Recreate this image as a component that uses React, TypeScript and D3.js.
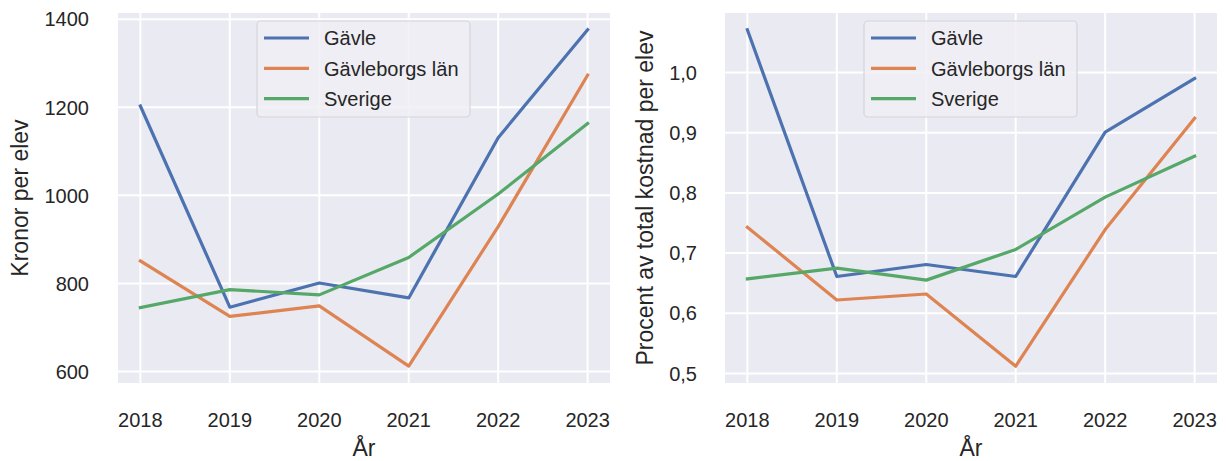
import React from "react";
import * as d3 from "d3";

const years = [2018, 2019, 2020, 2021, 2022, 2023];
const seriesNames = ["Gävle", "Gävleborgs län", "Sverige"];
const colors = ["#4C72B0", "#DD8452", "#55A868"];

const kronorGavle = [1203, 746, 801, 767, 1131, 1376];
const kronorLan = [851, 725, 749, 612, 929, 1273];
const kronorSverige = [745, 786, 774, 859, 1003, 1163];

const procentGavle = [1.071, 0.661, 0.681, 0.661, 0.901, 0.99];
const procentLan = [0.743, 0.622, 0.632, 0.512, 0.739, 0.924];
const procentSverige = [0.657, 0.675, 0.655, 0.706, 0.793, 0.861];

const kronorTicks = [600, 800, 1000, 1200, 1400];
const procentTicks = [0.5, 0.6, 0.7, 0.8, 0.9, 1.0];

const FONT = "'Liberation Sans', Arial, Helvetica, sans-serif";
const TEXT = "#262626";

function padDomain(vals: number[]): [number, number] {
  const mn = d3.min(vals)!;
  const mx = d3.max(vals)!;
  const p = (mx - mn) * 0.05;
  return [mn - p, mx + p];
}

type PanelProps = {
  left: number;
  width: number;
  top: number;
  height: number;
  series: number[][];
  ticks: number[];
  fmt: (v: number) => string;
  ylabel: string;
  ylabelX: number;
  tickEnd: number;
};

function Panel(p: PanelProps) {
  const x = d3
    .scaleLinear()
    .domain(padDomain(years))
    .range([p.left, p.left + p.width]);
  const y = d3
    .scaleLinear()
    .domain(padDomain(p.series.flat()))
    .range([p.top + p.height, p.top]);
  const line = d3
    .line<number>()
    .x((_, i) => x(years[i]))
    .y((d) => y(d));
  const cy = p.top + p.height / 2;
  const lgX = p.left + 139;
  const lgY = p.top + 8;
  return (
    <g>
      <rect x={p.left} y={p.top} width={p.width} height={p.height} fill="#EAEAF2" />
      {years.map((yr) => (
        <line key={"gx" + yr} x1={x(yr)} x2={x(yr)} y1={p.top} y2={p.top + p.height} stroke="#fff" strokeWidth={2} />
      ))}
      {p.ticks.map((t) => (
        <line key={"gy" + t} x1={p.left} x2={p.left + p.width} y1={y(t)} y2={y(t)} stroke="#fff" strokeWidth={2} />
      ))}
      {p.series.map((s, i) => (
        <path key={"s" + i} d={line(s) || ""} fill="none" stroke={colors[i]} strokeWidth={3.2} strokeLinejoin="round" strokeLinecap="square" />
      ))}
      {years.map((yr) => (
        <text key={"tx" + yr} x={x(yr)} y={427} textAnchor="middle" fontSize={20} fill={TEXT} fontFamily={FONT}>
          {yr}
        </text>
      ))}
      {p.ticks.map((t) => (
        <text key={"ty" + t} x={p.tickEnd} y={y(t)} dy="0.36em" textAnchor="end" fontSize={20} fill={TEXT} fontFamily={FONT}>
          {p.fmt(t)}
        </text>
      ))}
      <text x={p.left + p.width / 2} y={456} textAnchor="middle" fontSize={23} fill={TEXT} fontFamily={FONT}>
        År
      </text>
      <text
        transform={`translate(${p.ylabelX},${cy}) rotate(-90)`}
        textAnchor="middle"
        fontSize={23}
        fill={TEXT}
        fontFamily={FONT}
      >
        {p.ylabel}
      </text>
      <rect x={lgX} y={lgY} width={213} height={96} rx={4} fill="#EEEEF4" fillOpacity={0.85} stroke="#D4D4DA" strokeWidth={1.2} />
      {seriesNames.map((n, i) => (
        <g key={"lg" + i}>
          <line x1={lgX + 7} x2={lgX + 52} y1={lgY + 17 + i * 30.3} y2={lgY + 17 + i * 30.3} stroke={colors[i]} strokeWidth={3.2} />
          <text x={lgX + 67} y={lgY + 17 + i * 30.3} dy="0.36em" fontSize={20} fill={TEXT} fontFamily={FONT}>
            {n}
          </text>
        </g>
      ))}
    </g>
  );
}

export default function App() {
  const commaFmt = (v: number) => d3.format(".1f")(v).replace(".", ",");
  return (
    <svg
      width={1226}
      height={461}
      style={{ display: "block", position: "absolute", left: 0, top: 0 }}
    >
      <rect x={0} y={0} width={1226} height={461} fill="#fff" />
      <Panel
        left={118}
        width={492}
        top={13}
        height={370}
        series={[kronorGavle, kronorLan, kronorSverige]}
        ticks={kronorTicks}
        fmt={(v) => String(v)}
        ylabel="Kronor per elev"
        ylabelX={28}
        tickEnd={89}
      />
      <Panel
        left={725}
        width={492}
        top={13}
        height={370}
        series={[procentGavle, procentLan, procentSverige]}
        ticks={procentTicks}
        fmt={commaFmt}
        ylabel="Procent av total kostnad per elev"
        ylabelX={653}
        tickEnd={697}
      />
    </svg>
  );
}
